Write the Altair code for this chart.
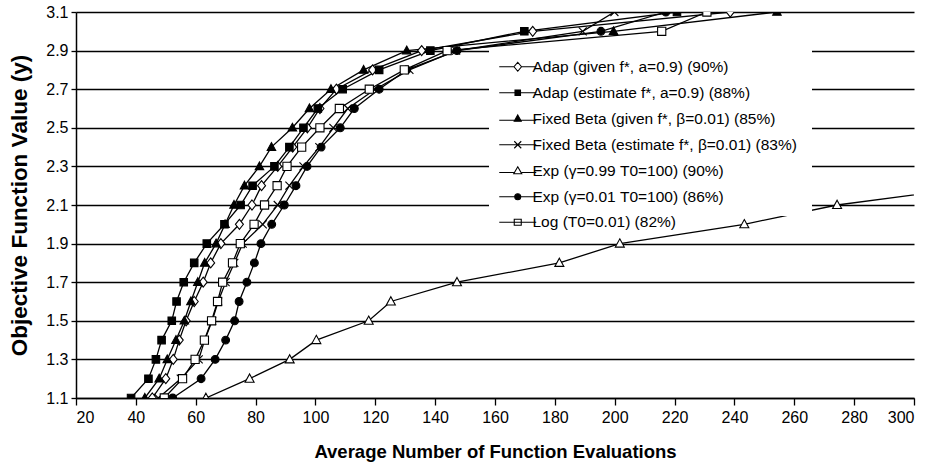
import altair as alt
import pandas as pd

# ---------------- data ----------------
series_names = [
    "Adap (given f*, a=0.9) (90%)",
    "Adap (estimate f*, a=0.9) (88%)",
    "Fixed Beta  (given f*, β=0.01) (85%)",
    "Fixed Beta  (estimate f*, β=0.01) (83%)",
    "Exp (γ=0.99 T0=100) (90%)",
    "Exp (γ=0.01 T0=100) (86%)",
    "Log (T0=0.01) (82%)",
]

y_levels = [1.1, 1.2, 1.3, 1.4, 1.5, 1.6, 1.7, 1.8, 1.9, 2.0, 2.1,
            2.2, 2.3, 2.4, 2.5, 2.6, 2.7, 2.8, 2.9, 3.0, 3.1]

adap_given_x = [45.5, 50.0, 52.5, 54.5, 56.8, 59.5, 62.5, 65.0, 68.4, 74.6, 78.8,
                82.0, 87.4, 92.4, 97.3, 101.5, 107.0, 119.1, 135.5, 172.6, 238.6]
adap_est_x = [38.4, 44.2, 46.7, 48.6, 52.0, 53.6, 56.0, 59.5, 63.7, 69.6, 75.0,
              79.0, 86.3, 91.3, 96.0, 100.8, 109.1, 121.3, 138.4, 169.8, 220.8]
fixed_given_x = [43.0, 47.8, 50.5, 53.4, 56.2, 58.4, 60.7, 63.0, 66.8, 69.8, 72.8,
                 76.3, 81.3, 85.3, 92.3, 98.0, 105.2, 116.1, 130.5, 199.6, 254.2]
fixed_est_x = [47.5, 55.0, 61.0, 63.0, 65.5, 67.5, 70.0, 72.9, 75.7, 82.4, 87.4,
               91.3, 96.0, 101.3, 106.0, 110.8, 120.0, 131.4, 147.0, 189.3, 199.9]
exp001_x = [52.3, 61.8, 66.5, 70.0, 73.0, 74.5, 77.1, 79.6, 81.8, 85.4, 89.6,
            93.5, 97.2, 101.9, 108.3, 113.0, 121.3, 130.5, 147.3, 195.4, 217.1]
log_x = [49.5, 55.6, 59.8, 62.9, 65.3, 67.3, 69.0, 72.3, 74.9, 79.5, 83.0,
         87.2, 90.5, 95.4, 101.5, 108.0, 118.0, 129.7, 144.0, 215.7, 230.8]

exp099_x = [63.4, 78.0, 91.4, 100.3, 117.8, 125.2, 147.3, 181.5, 201.7, 243.3, 274.3, 323.0]
exp099_y = [1.1, 1.2, 1.3, 1.4, 1.5, 1.6, 1.7, 1.8, 1.9, 2.0, 2.1, 2.2]

x_ticks = [20, 40, 60, 80, 100, 120, 140, 160, 180, 200, 220, 240, 260, 280, 300]
y_ticks = [1.1, 1.3, 1.5, 1.7, 1.9, 2.1, 2.3, 2.5, 2.7, 2.9, 3.1]

series_x = [adap_given_x, adap_est_x, fixed_given_x, fixed_est_x, exp099_x, exp001_x, log_x]
series_y = [y_levels, y_levels, y_levels, y_levels, exp099_y, y_levels, y_levels]

rows = []
for name, xs, ys in zip(series_names, series_x, series_y):
    for i, (xv, yv) in enumerate(zip(xs, ys)):
        rows.append({"series": name, "x": xv, "y": yv, "order": i})
df = pd.DataFrame(rows)

# ---------------- styling ----------------
fills = ["white", "black", "black", "black", "white", "black", "white"]

marker_paths = [
    "M0,-1L0.8,0L0,1L-0.8,0Z",                               # open diamond
    "M-0.75,-0.75H0.75V0.75H-0.75Z",                          # filled square
    "M0,-0.9L0.85,0.65H-0.85Z",                               # filled triangle
    "M-0.8,-0.8L0.8,0.8M-0.8,0.8L0.8,-0.8",                   # x
    "M0,-0.95L0.9,0.7H-0.9Z",                                 # open triangle
    "M-0.78,0A0.78,0.78,0,1,0,0.78,0A0.78,0.78,0,1,0,-0.78,0Z",  # filled circle
    "M-0.82,-0.82H0.82V0.82H-0.82Z",                          # open square
]

L = "3.7"
legend_paths = [
    f"M-{L},0H-0.8M0.8,0H{L}M0,-0.9L0.75,0L0,0.9L-0.75,0Z",
    f"M-{L},0H{L}M-0.55,-0.55H0.55V0.55H-0.55Z",
    f"M-{L},0.3H{L}M0,-0.75L0.7,0.5H-0.7Z",
    f"M-{L},0H{L}M-0.7,-0.7L0.7,0.7M-0.7,0.7L0.7,-0.7",
    f"M-{L},0.35H-0.8M0.8,0.35H{L}M0,-0.8L0.8,0.6H-0.8Z",
    f"M-{L},0H{L}M-0.6,0A0.6,0.6,0,1,0,0.6,0A0.6,0.6,0,1,0,-0.6,0Z",
    f"M-{L},0H{L}M-0.7,-0.6H0.7V0.6H-0.7Z",
]

FONT = "Liberation Sans, Arial"
LEG_FS = 15.5

x_enc = alt.X("x:Q",
              scale=alt.Scale(domain=[20, 300], nice=False, zero=False),
              axis=alt.Axis(values=x_ticks, title="Average Number of Function Evaluations",
                            grid=False, tickSize=7, labelPadding=4, titlePadding=17,
                            titleFontSize=18.5))
y_enc = alt.Y("y:Q",
              scale=alt.Scale(domain=[1.1, 3.1], nice=False, zero=False),
              axis=alt.Axis(values=y_ticks, format=".1f", title="Objective Function Value (y)",
                            grid=True, tickSize=5, labelPadding=3, titlePadding=14,
                            titleFontSize=22.5))

lines = alt.Chart(df).mark_line(color="black", strokeWidth=1.3, clip=True).encode(
    x=x_enc, y=y_enc, detail="series:N", order="order:Q"
)

points = alt.Chart(df).mark_point(filled=True, stroke="black", strokeWidth=1.1,
                                  size=100, opacity=1, clip=True).encode(
    x=x_enc, y=y_enc,
    shape=alt.Shape("series:N", scale=alt.Scale(domain=series_names, range=marker_paths), legend=None),
    color=alt.Color("series:N", scale=alt.Scale(domain=series_names, range=fills), legend=None),
)


def legend_chart(names, paths, fill_list, lx, ly, pad, fill_color):
    leg_full = dict(title=None, orient="none", legendX=lx, legendY=ly,
                    padding=pad, symbolOffset=21 - pad,
                    labelOffset=7, rowPadding=9, symbolSize=100,
                    symbolOpacity=1, symbolStrokeColor="black", symbolStrokeWidth=1.1,
                    labelFont=FONT, labelFontSize=LEG_FS, labelColor="black", labelLimit=400)
    if fill_color:
        leg_full["fillColor"] = fill_color
    leg_min = dict(title=None, orient="none", legendX=lx, legendY=ly)
    return alt.Chart(df).transform_filter(
        alt.FieldOneOfPredicate(field="series", oneOf=names)
    ).mark_point(filled=True, stroke="black", strokeWidth=1.1, size=100,
                 opacity=0, clip=True).encode(
        x=x_enc, y=y_enc,
        shape=alt.Shape("series:N", scale=alt.Scale(domain=names, range=paths),
                        legend=alt.Legend(**leg_full)),
        color=alt.Color("series:N", scale=alt.Scale(domain=names, range=fill_list),
                        legend=alt.Legend(**leg_min)),
    )


legend_main = legend_chart(series_names[:6], legend_paths[:6], fills[:6], 413, 37, 10, "white")
legend_log = legend_chart(series_names[6:], legend_paths[6:], fills[6:], 413, 198.5, 4, None)

chart = alt.layer(lines, points, legend_main, legend_log).resolve_scale(
    shape="independent", color="independent"
).properties(
    width=838, height=386,
    padding={"left": 8, "top": 4, "right": 5, "bottom": 5},
    background="white",
).configure_view(stroke=None).configure_axis(
    domainColor="black", domainWidth=1.5, tickColor="black", tickWidth=1.3,
    gridColor="black", gridWidth=1.3, gridOpacity=1,
    labelFont=FONT, labelFontSize=16, labelColor="black",
    titleFont=FONT, titleFontWeight="bold", titleColor="black",
)

chart.save("out.html", embed_options={"renderer": "svg", "actions": False})
